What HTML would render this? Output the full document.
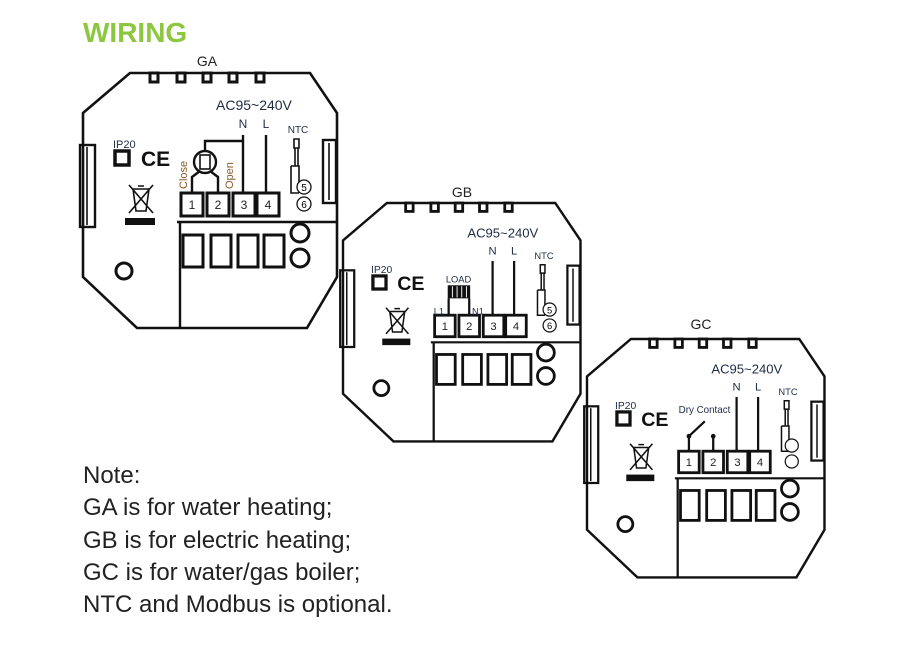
<!DOCTYPE html>
<html><head><meta charset="utf-8"><style>
html,body{margin:0;padding:0;background:#fff;width:911px;height:645px;overflow:hidden}
svg{display:block}
text{font-family:"Liberation Sans",sans-serif}
.o{fill:#fff;stroke:#111;stroke-width:2.6}
.k{fill:none;stroke:#111;stroke-width:2.4}
.t{fill:none;stroke:#111;stroke-width:1.6}
.th{fill:#fff;stroke:#111;stroke-width:3}
.lb{fill:#1f2a44}
.or{fill:#8a5a2a}
</style></head><body>
<svg width="911" height="645" viewBox="0 0 911 645">
<text x="83" y="42" font-size="28" font-weight="bold" fill="#8dc63f">WIRING</text>
<text x="207" y="66" font-size="14" text-anchor="middle" fill="#222">GA</text>
<text x="462" y="197" font-size="14" text-anchor="middle" fill="#222">GB</text>
<text x="701" y="329" font-size="14" text-anchor="middle" fill="#222">GC</text>

<!-- GA -->
<g transform="translate(83,73)">
<path class="o" d="M47 0 H227 L254 40 V204 L224 255 H54 L0 204 V40 Z"/>
<g class="th"><rect x="67" y="0" width="8" height="9"/><rect x="94" y="0" width="8" height="9"/><rect x="120" y="0" width="8" height="9"/><rect x="146" y="0" width="8" height="9"/><rect x="173" y="0" width="8" height="9"/></g>
<rect class="k" x="-3" y="72" width="15" height="82"/><line class="t" x1="4" y1="74" x2="4" y2="152"/>
<rect class="k" x="240" y="67" width="13" height="63"/><line class="t" x1="246" y1="70" x2="246" y2="127"/>
<text x="30" y="75" font-size="11" class="lb">IP20</text>
<rect x="32" y="78" width="14" height="14" fill="none" stroke="#111" stroke-width="3.5"/>
<text x="58" y="93" font-size="21" font-weight="bold" fill="#111">CE</text>
<g class="t"><path d="M46 112 L70 140 M70 112 L46 140 M50 116 H66 L63 138 H53 Z M55 113 H61"/></g>
<rect x="42" y="145" width="30" height="7" fill="#111"/>
<text x="133" y="37" font-size="14" class="lb">AC95~240V</text>
<text x="160" y="55" font-size="12" class="lb" text-anchor="middle">N</text>
<text x="183" y="55" font-size="12" class="lb" text-anchor="middle">L</text>
<text x="215" y="60" font-size="10" class="lb" text-anchor="middle">NTC</text>
<line class="k" x1="160" y1="62" x2="160" y2="120"/><line class="k" x1="183" y1="62" x2="183" y2="120"/>
<g class="th" stroke-width="2.4"><rect x="98" y="120" width="22" height="23"/><rect x="124" y="120" width="22" height="23"/><rect x="150" y="120" width="22" height="23"/><rect x="174" y="120" width="22" height="23"/></g>
<g font-size="12" fill="#222" text-anchor="middle"><text x="109" y="136">1</text><text x="135" y="136">2</text><text x="161" y="136">3</text><text x="185" y="136">4</text></g>
<line class="k" x1="94" y1="149" x2="254" y2="149"/><line class="k" x1="97" y1="149" x2="97" y2="255"/>
<g class="th"><rect x="100" y="162" width="20" height="32"/><rect x="128" y="162" width="20" height="32"/><rect x="155" y="162" width="20" height="32"/><rect x="181" y="162" width="20" height="32"/></g>
<circle class="th" cx="217" cy="160" r="9"/><circle class="th" cx="217" cy="185" r="9"/>
<circle class="th" cx="41" cy="198" r="8"/>
<path class="t" d="M211 66 h5 v9 h-5 z M212 75 V93 M215 75 V93 M208 93 H216 V120 M208 93 V120 H216"/>
<circle cx="221" cy="114" r="7" fill="#fff" stroke="#111" stroke-width="1.3"/><text x="221" y="118" font-size="10" text-anchor="middle">5</text>
<circle cx="221" cy="131" r="7" fill="#fff" stroke="#111" stroke-width="1.3"/><text x="221" y="135" font-size="10" text-anchor="middle">6</text>
<path class="k" d="M160 68 H122 V77"/>
<circle class="k" cx="122" cy="89" r="11"/><rect class="t" x="117" y="82" width="10" height="14"/>
<path class="k" d="M117 98 L109 104 V120 M127 98 L135 104 V120"/>
<text transform="translate(104,116) rotate(-90)" font-size="11" class="or">Close</text>
<text transform="translate(150,116) rotate(-90)" font-size="11" class="or">Open</text>
</g>

<!-- GB -->
<g transform="translate(343,203) scale(0.935)">
<path class="o" d="M47 0 H227 L254 40 V204 L224 255 H54 L0 204 V40 Z"/>
<g class="th"><rect x="67" y="0" width="8" height="9"/><rect x="94" y="0" width="8" height="9"/><rect x="120" y="0" width="8" height="9"/><rect x="146" y="0" width="8" height="9"/><rect x="173" y="0" width="8" height="9"/></g>
<rect class="k" x="-3" y="72" width="15" height="82"/><line class="t" x1="4" y1="74" x2="4" y2="152"/>
<rect class="k" x="240" y="67" width="13" height="63"/><line class="t" x1="246" y1="70" x2="246" y2="127"/>
<text x="30" y="75" font-size="11" class="lb">IP20</text>
<rect x="32" y="78" width="14" height="14" fill="none" stroke="#111" stroke-width="3.5"/>
<text x="58" y="93" font-size="21" font-weight="bold" fill="#111">CE</text>
<g class="t"><path d="M46 112 L70 140 M70 112 L46 140 M50 116 H66 L63 138 H53 Z M55 113 H61"/></g>
<rect x="42" y="145" width="30" height="7" fill="#111"/>
<text x="133" y="37" font-size="14" class="lb">AC95~240V</text>
<text x="160" y="55" font-size="12" class="lb" text-anchor="middle">N</text>
<text x="183" y="55" font-size="12" class="lb" text-anchor="middle">L</text>
<text x="215" y="60" font-size="10" class="lb" text-anchor="middle">NTC</text>
<line class="k" x1="160" y1="62" x2="160" y2="120"/><line class="k" x1="183" y1="62" x2="183" y2="120"/>
<g class="th" stroke-width="2.4"><rect x="98" y="120" width="22" height="23"/><rect x="124" y="120" width="22" height="23"/><rect x="150" y="120" width="22" height="23"/><rect x="174" y="120" width="22" height="23"/></g>
<g font-size="12" fill="#222" text-anchor="middle"><text x="109" y="136">1</text><text x="135" y="136">2</text><text x="161" y="136">3</text><text x="185" y="136">4</text></g>
<line class="k" x1="94" y1="149" x2="254" y2="149"/><line class="k" x1="97" y1="149" x2="97" y2="255"/>
<g class="th"><rect x="100" y="162" width="20" height="32"/><rect x="128" y="162" width="20" height="32"/><rect x="155" y="162" width="20" height="32"/><rect x="181" y="162" width="20" height="32"/></g>
<circle class="th" cx="217" cy="160" r="9"/><circle class="th" cx="217" cy="185" r="9"/>
<circle class="th" cx="41" cy="198" r="8"/>
<path class="t" d="M211 66 h5 v9 h-5 z M212 75 V93 M215 75 V93 M208 93 H216 V120 M208 93 V120 H216"/>
<circle cx="221" cy="114" r="7" fill="#fff" stroke="#111" stroke-width="1.3"/><text x="221" y="118" font-size="10" text-anchor="middle">5</text>
<circle cx="221" cy="131" r="7" fill="#fff" stroke="#111" stroke-width="1.3"/><text x="221" y="135" font-size="10" text-anchor="middle">6</text>
<text x="110" y="85" font-size="10" class="lb">LOAD</text>
<rect x="112" y="88" width="24" height="14" fill="#111"/>
<g stroke="#fff" stroke-width="1"><line x1="117" y1="89" x2="117" y2="101"/><line x1="122" y1="89" x2="122" y2="101"/><line x1="127" y1="89" x2="127" y2="101"/><line x1="132" y1="89" x2="132" y2="101"/></g>
<path class="k" d="M113 102 V120 M135 102 V120"/>
<text x="97" y="119" font-size="10" class="lb">L1</text>
<text x="138" y="119" font-size="10" class="lb">N1</text>
</g>

<!-- GC -->
<g transform="translate(587,339) scale(0.935)">
<path class="o" d="M47 0 H227 L254 40 V204 L224 255 H54 L0 204 V40 Z"/>
<g class="th"><rect x="67" y="0" width="8" height="9"/><rect x="94" y="0" width="8" height="9"/><rect x="120" y="0" width="8" height="9"/><rect x="146" y="0" width="8" height="9"/><rect x="173" y="0" width="8" height="9"/></g>
<rect class="k" x="-3" y="72" width="15" height="82"/><line class="t" x1="4" y1="74" x2="4" y2="152"/>
<rect class="k" x="240" y="67" width="13" height="63"/><line class="t" x1="246" y1="70" x2="246" y2="127"/>
<text x="30" y="75" font-size="11" class="lb">IP20</text>
<rect x="32" y="78" width="14" height="14" fill="none" stroke="#111" stroke-width="3.5"/>
<text x="58" y="93" font-size="21" font-weight="bold" fill="#111">CE</text>
<g class="t"><path d="M46 112 L70 140 M70 112 L46 140 M50 116 H66 L63 138 H53 Z M55 113 H61"/></g>
<rect x="42" y="145" width="30" height="7" fill="#111"/>
<text x="133" y="37" font-size="14" class="lb">AC95~240V</text>
<text x="160" y="55" font-size="12" class="lb" text-anchor="middle">N</text>
<text x="183" y="55" font-size="12" class="lb" text-anchor="middle">L</text>
<text x="215" y="60" font-size="10" class="lb" text-anchor="middle">NTC</text>
<line class="k" x1="160" y1="62" x2="160" y2="120"/><line class="k" x1="183" y1="62" x2="183" y2="120"/>
<g class="th" stroke-width="2.4"><rect x="98" y="120" width="22" height="23"/><rect x="124" y="120" width="22" height="23"/><rect x="150" y="120" width="22" height="23"/><rect x="174" y="120" width="22" height="23"/></g>
<g font-size="12" fill="#222" text-anchor="middle"><text x="109" y="136">1</text><text x="135" y="136">2</text><text x="161" y="136">3</text><text x="185" y="136">4</text></g>
<line class="k" x1="94" y1="149" x2="254" y2="149"/><line class="k" x1="97" y1="149" x2="97" y2="255"/>
<g class="th"><rect x="100" y="162" width="20" height="32"/><rect x="128" y="162" width="20" height="32"/><rect x="155" y="162" width="20" height="32"/><rect x="181" y="162" width="20" height="32"/></g>
<circle class="th" cx="217" cy="160" r="9"/><circle class="th" cx="217" cy="185" r="9"/>
<circle class="th" cx="41" cy="198" r="8"/>
<path class="t" d="M211 66 h5 v9 h-5 z M212 75 V93 M215 75 V93 M208 93 H216 V120 M208 93 V120 H216"/>
<circle cx="219" cy="114" r="7" fill="#fff" stroke="#111" stroke-width="1.3"/>
<circle cx="219" cy="131" r="7" fill="#fff" stroke="#111" stroke-width="1.3"/>
<text x="98" y="79" font-size="10.5" class="lb">Dry Contact</text>
<path class="k" d="M109 120 V104 L126 88 M135 120 V105"/>
<circle cx="109" cy="104" r="2.5" fill="#111"/><circle cx="135" cy="104" r="2.5" fill="#111"/>
</g>

<g font-size="24" fill="#222">
<text x="83" y="483">Note:</text>
<text x="83" y="515">GA is for water heating;</text>
<text x="83" y="548">GB is for electric heating;</text>
<text x="83" y="580">GC is for water/gas boiler;</text>
<text x="83" y="612">NTC and Modbus is optional.</text>
</g>
</svg>
</body></html>
